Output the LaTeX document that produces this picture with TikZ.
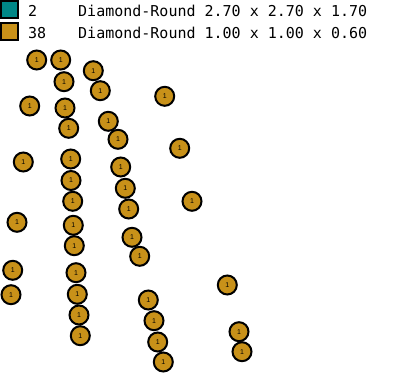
\documentclass[tikz,border=0pt]{standalone}
\usepackage{fontspec}
\setmainfont{Liberation Sans}
\newfontfamily\monofont{DejaVu Sans Mono}
\definecolor{gold}{RGB}{200,145,25}
\definecolor{tealc}{RGB}{0,135,135}
\begin{document}
\begin{tikzpicture}[x=1pt,y=-1pt,
  ball/.style={circle,draw=black,line width=2pt,fill=gold,minimum size=19pt,inner sep=0pt,font=\fontsize{7}{7}\selectfont},
  swatch/.style={draw=black,line width=2pt,minimum size=17pt,inner sep=0pt},
  legtext/.style={anchor=west,inner sep=0pt,font=\monofont\fontsize{15}{15}\selectfont}]
\useasboundingbox (0,0) rectangle (397,374);
\node[swatch,fill=tealc] (s1) at (9.5,10) {};
\node[swatch,fill=gold] (s2) at (9.5,32) {};
\node[legtext] (n1) at (28,11) {2};
\node[legtext] (n2) at (28,33) {38};
\node[legtext] (t1) at (78,11) {Diamond-Round 2.70 x 2.70 x 1.70};
\node[legtext] (t2) at (78,33) {Diamond-Round 1.00 x 1.00 x 0.60};
\foreach \x/\y [count=\i] in {
 36.7/60, 60.7/60, 64/81.7, 93.3/70.7, 100.3/90.7, 164.7/96.3, 29.7/106, 65/108,
 68.7/128.3, 108.3/121.3, 118/139.3, 179.7/148.3, 23.3/162, 70.7/159, 120.7/167,
 71/180.5, 72.7/201.3, 125.3/188.3, 128.7/209, 192/201.3, 17/222.3, 73.3/225.3,
 74.3/245.7, 132/237.3, 139.7/256.3, 12.7/270.3, 76/272.7, 11/294.7, 77.3/294.3,
 148.3/300, 79/315, 154/320.7, 80.3/335.7, 157.7/342, 163.3/362, 227.3/285,
 239/331.7, 242/351.7}
 \node[ball] (c\i) at (\x,\y) {1};
\end{tikzpicture}
\end{document}
